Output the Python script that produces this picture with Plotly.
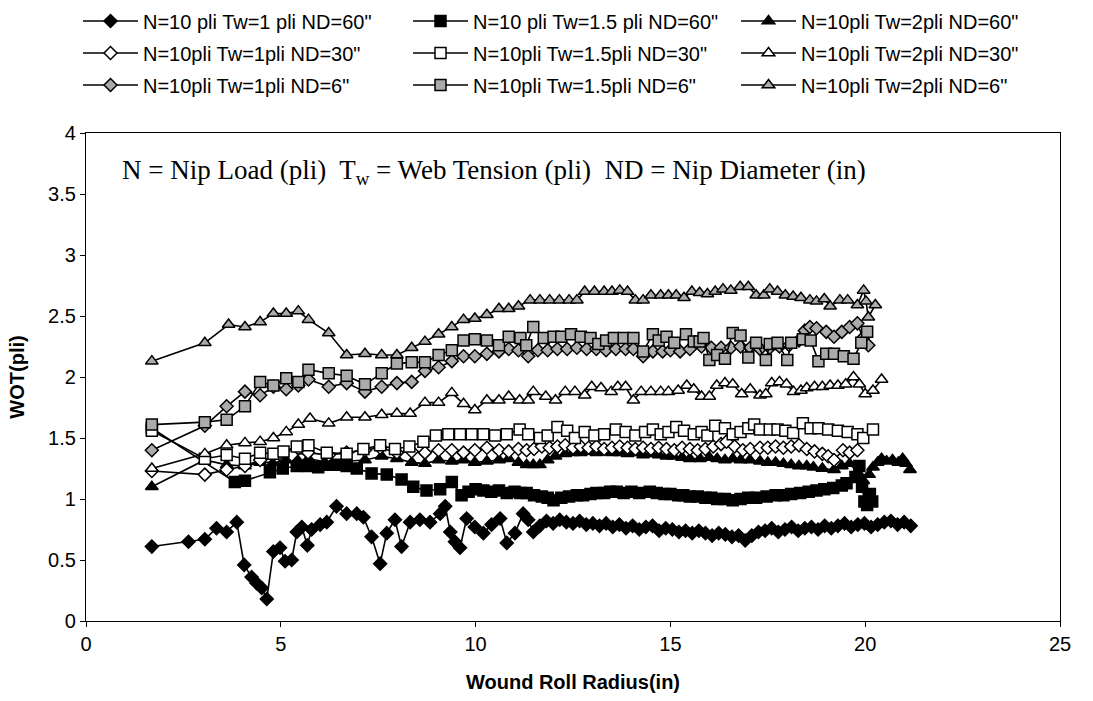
import plotly.graph_objects as go

# ---------------- data ----------------
x_tw1_nd60 = [1.69, 2.63, 3.05, 3.35, 3.61, 3.87, 4.06, 4.25, 4.38, 4.51, 4.64, 4.81, 4.98, 5.11, 5.28, 5.41, 5.54, 5.68,
              5.79, 6.01, 6.18, 6.43, 6.69, 6.95, 7.12, 7.33, 7.55, 7.72, 7.93, 8.10, 8.32, 8.57, 8.83, 9.09, 9.22, 9.35,
              9.47, 9.60, 9.77, 9.98, 10.20, 10.41, 10.63, 10.80, 11.01, 11.22, 11.35, 11.48, 11.65, 11.82, 11.99, 12.16,
              12.33, 12.50, 12.67, 12.84, 13.01, 13.18, 13.35, 13.52, 13.69, 13.86, 14.03, 14.20, 14.37, 14.54, 14.71,
              14.88, 15.05, 15.22, 15.39, 15.56, 15.73, 15.90, 16.07, 16.24, 16.41, 16.58, 16.75, 16.92, 17.09, 17.26,
              17.43, 17.60, 17.77, 17.94, 18.11, 18.28, 18.45, 18.62, 18.79, 18.96, 19.13, 19.30, 19.47, 19.64, 19.81,
              19.98, 20.15, 20.32, 20.49, 20.66, 20.83, 21.00, 21.17]
y_tw1_nd60 = [0.61, 0.65, 0.67, 0.76, 0.73, 0.81, 0.46, 0.36, 0.31, 0.27, 0.18, 0.57, 0.60, 0.49, 0.50, 0.73, 0.77, 0.62,
              0.75, 0.79, 0.81, 0.94, 0.88, 0.88, 0.85, 0.69, 0.47, 0.72, 0.83, 0.61, 0.81, 0.83, 0.81, 0.88, 0.94, 0.73,
              0.65, 0.60, 0.84, 0.77, 0.72, 0.79, 0.84, 0.64, 0.72, 0.88, 0.83, 0.73, 0.78, 0.82, 0.80, 0.83,
              0.81, 0.80, 0.82, 0.79, 0.80, 0.78, 0.80, 0.77, 0.79, 0.76, 0.78, 0.75, 0.77, 0.78, 0.74,
              0.76, 0.75, 0.73, 0.74, 0.72, 0.74, 0.72, 0.70, 0.72, 0.71, 0.69, 0.70, 0.66, 0.70, 0.73,
              0.74, 0.76, 0.73, 0.75, 0.77, 0.74, 0.76, 0.77, 0.75, 0.78, 0.76, 0.78, 0.80, 0.77, 0.79,
              0.80, 0.77, 0.79, 0.81, 0.82, 0.79, 0.81, 0.78]

x_tw15_nd60 = [1.69, 3.82, 4.08, 4.72, 5.05, 5.41, 5.70, 5.96, 6.20, 6.43, 6.69, 6.95, 7.33, 7.72, 8.10, 8.40, 8.74, 9.09,
               9.39, 9.64, 9.82, 10.00, 10.20, 10.40, 10.60, 10.80, 11.00, 11.15, 11.31, 11.50, 11.70, 11.85, 12.00, 12.20,
               12.40, 12.60, 12.76, 12.95, 13.10, 13.30, 13.45, 13.62, 13.80, 14.00, 14.20, 14.47, 14.65, 14.85, 15.00,
               15.20, 15.33, 15.50, 15.70, 15.90, 16.05, 16.20, 16.40, 16.60, 16.80, 17.00, 17.20, 17.47, 17.70, 17.90,
               18.10, 18.33, 18.55, 18.75, 18.95, 19.18, 19.40, 19.52, 19.75, 19.85, 19.92, 19.98, 20.05, 20.12, 20.18]
y_tw15_nd60 = [1.58, 1.14, 1.15, 1.22, 1.25, 1.27, 1.27, 1.26, 1.28, 1.28, 1.27, 1.25, 1.21, 1.20, 1.16, 1.10, 1.07, 1.08,
               1.14, 1.03, 1.06, 1.08, 1.07, 1.06, 1.07, 1.05, 1.06, 1.05, 1.05, 1.03, 1.02, 1.01, 0.99, 1.01,
               1.02, 1.03, 1.03, 1.04, 1.05, 1.05, 1.06, 1.06, 1.05, 1.06, 1.05, 1.06, 1.05, 1.04, 1.04,
               1.03, 1.03, 1.02, 1.02, 1.01, 1.01, 1.00, 1.00, 0.99, 1.00, 1.01, 1.01, 1.02, 1.03, 1.03,
               1.04, 1.05, 1.06, 1.07, 1.08, 1.09, 1.11, 1.13, 1.18, 1.27, 1.10, 0.98, 0.95, 1.04, 0.98]

x_tw2_nd60 = [1.69, 3.05, 3.61, 4.08, 4.47, 4.81, 5.14, 5.45, 5.71, 6.23, 6.69, 7.16, 7.59, 7.98, 8.36, 8.70, 9.05, 9.39,
              9.69, 9.98, 10.29, 10.60, 10.85, 11.10, 11.31, 11.48, 11.65, 11.85, 12.05, 12.30, 12.50, 12.70, 12.90,
              13.10, 13.30, 13.50, 13.70, 13.90, 14.10, 14.30, 14.50, 14.70, 14.90, 15.07, 15.30, 15.50, 15.76, 16.00,
              16.20, 16.40, 16.60, 16.80, 17.04, 17.30, 17.50, 17.70, 17.90, 18.10, 18.30, 18.50, 18.67, 18.90, 19.20,
              19.40, 19.60, 19.80, 19.95, 20.10, 20.20, 20.32, 20.42, 20.55, 20.70, 20.85, 20.96, 21.05, 21.15]
y_tw2_nd60 = [1.10, 1.32, 1.28, 1.27, 1.30, 1.30, 1.32, 1.31, 1.33, 1.30, 1.31, 1.32, 1.35, 1.33, 1.30, 1.29, 1.32, 1.31,
              1.32, 1.30, 1.31, 1.32, 1.33, 1.30, 1.28, 1.28, 1.28, 1.32, 1.35, 1.37, 1.38, 1.38, 1.39,
              1.38, 1.39, 1.38, 1.38, 1.37, 1.38, 1.36, 1.37, 1.36, 1.35, 1.35, 1.34, 1.33, 1.33, 1.34,
              1.33, 1.32, 1.33, 1.32, 1.32, 1.31, 1.30, 1.30, 1.29, 1.28, 1.27, 1.27, 1.26, 1.25, 1.24,
              1.27, 1.29, 1.22, 1.15, 1.20, 1.26, 1.30, 1.33, 1.31, 1.32, 1.30, 1.33, 1.29, 1.24]

x_tw1_nd30 = [1.69, 3.05, 3.61, 4.08, 4.47, 4.90, 5.28, 5.70, 6.23, 6.69, 7.16, 7.55, 7.98, 8.36, 8.70, 9.05, 9.39, 9.69,
              9.98, 10.29, 10.60, 10.85, 11.10, 11.31, 11.50, 11.70, 11.90, 12.10, 12.30, 12.50, 12.70, 12.90, 13.10,
              13.30, 13.50, 13.70, 13.90, 14.10, 14.30, 14.50, 14.70, 14.90, 15.10, 15.30, 15.50, 15.70, 15.90, 16.10,
              16.30, 16.44, 16.65, 16.86, 17.05, 17.30, 17.50, 17.70, 17.90, 18.10, 18.30, 18.50, 18.70, 18.90, 19.05,
              19.20, 19.43, 19.60, 19.80]
y_tw1_nd30 = [1.23, 1.20, 1.24, 1.27, 1.32, 1.35, 1.36, 1.38, 1.36, 1.38, 1.40, 1.42, 1.38, 1.39, 1.38, 1.40, 1.40, 1.38,
              1.40, 1.42, 1.40, 1.39, 1.41, 1.40, 1.41, 1.43, 1.42, 1.43, 1.44, 1.42, 1.43, 1.42, 1.43,
              1.41, 1.42, 1.43, 1.42, 1.41, 1.42, 1.41, 1.42, 1.41, 1.40, 1.42, 1.41, 1.40, 1.41, 1.43,
              1.45, 1.47, 1.43, 1.40, 1.41, 1.42, 1.42, 1.43, 1.42, 1.43, 1.44, 1.41, 1.39, 1.37, 1.35,
              1.32, 1.40, 1.38, 1.40]

x_tw15_nd30 = [1.69, 3.05, 3.61, 4.08, 4.47, 4.81, 5.07, 5.41, 5.71, 6.18, 6.69, 7.12, 7.55, 7.93, 8.30, 8.66, 8.98, 9.30,
               9.60, 9.90, 10.20, 10.50, 10.80, 11.13, 11.35, 11.65, 11.85, 12.10, 12.35, 12.55, 12.80, 13.05, 13.30,
               13.60, 13.85, 14.10, 14.35, 14.55, 14.75, 14.95, 15.15, 15.35, 15.60, 15.80, 15.95, 16.15, 16.40, 16.60,
               16.80, 17.00, 17.15, 17.30, 17.55, 17.75, 17.95, 18.15, 18.40, 18.60, 18.80, 19.05, 19.30, 19.55, 19.80,
               19.95, 20.20]
y_tw15_nd30 = [1.56, 1.33, 1.36, 1.33, 1.38, 1.37, 1.39, 1.43, 1.44, 1.38, 1.37, 1.41, 1.44, 1.41, 1.43, 1.47, 1.52, 1.53,
               1.53, 1.53, 1.53, 1.52, 1.53, 1.57, 1.53, 1.50, 1.52, 1.59, 1.56, 1.50, 1.55, 1.52, 1.53,
               1.57, 1.55, 1.52, 1.55, 1.57, 1.53, 1.55, 1.59, 1.56, 1.53, 1.55, 1.52, 1.60, 1.58, 1.53,
               1.55, 1.58, 1.61, 1.57, 1.57, 1.57, 1.56, 1.54, 1.62, 1.58, 1.58, 1.57, 1.56, 1.55, 1.53,
               1.50, 1.57]

x_tw2_nd30 = [1.69, 3.05, 3.61, 4.08, 4.47, 4.81, 5.14, 5.45, 5.75, 6.23, 6.69, 7.16, 7.59, 7.98, 8.32, 8.70, 9.05, 9.39,
              9.69, 9.98, 10.29, 10.60, 10.85, 11.13, 11.35, 11.48, 11.80, 12.05, 12.30, 12.55, 12.80, 12.98, 13.22,
              13.48, 13.65, 13.85, 14.05, 14.25, 14.50, 14.75, 14.95, 15.20, 15.42, 15.60, 15.80, 16.00, 16.19, 16.40,
              16.60, 16.83, 17.05, 17.30, 17.45, 17.60, 17.80, 17.98, 18.16, 18.35, 18.50, 18.70, 18.90, 19.10, 19.30,
              19.50, 19.70, 19.85, 20.00, 20.20, 20.42]
y_tw2_nd30 = [1.25, 1.37, 1.44, 1.46, 1.47, 1.50, 1.55, 1.61, 1.66, 1.62, 1.67, 1.67, 1.69, 1.70, 1.70, 1.79, 1.79, 1.87,
              1.78, 1.73, 1.81, 1.81, 1.84, 1.81, 1.81, 1.88, 1.84, 1.81, 1.88, 1.88, 1.85, 1.92, 1.91,
              1.88, 1.92, 1.92, 1.81, 1.88, 1.88, 1.88, 1.88, 1.89, 1.93, 1.90, 1.84, 1.84, 1.93, 1.95,
              1.94, 1.86, 1.90, 1.85, 1.86, 1.95, 1.96, 1.94, 1.88, 1.89, 1.91, 1.92, 1.92, 1.93, 1.93,
              1.94, 2.00, 1.94, 1.86, 1.89, 1.98]

x_tw1_nd6 = [1.69, 3.05, 3.61, 4.08, 4.47, 4.81, 5.14, 5.45, 5.71, 6.23, 6.69, 7.16, 7.59, 7.98, 8.36, 8.70, 9.05, 9.39,
             9.69, 9.98, 10.29, 10.60, 10.85, 11.10, 11.35, 11.60, 11.85, 12.10, 12.35, 12.60, 12.85, 13.10, 13.35,
             13.60, 13.85, 14.05, 14.30, 14.55, 14.80, 15.00, 15.25, 15.50, 15.80, 16.05, 16.30, 16.55, 16.80, 17.05,
             17.30, 17.55, 17.80, 18.05, 18.30, 18.45, 18.58, 18.75, 19.00, 19.20, 19.40, 19.60, 19.80, 19.94, 20.08]
y_tw1_nd6 = [1.40, 1.60, 1.76, 1.88, 1.85, 1.92, 1.90, 1.93, 1.98, 1.92, 1.95, 1.88, 1.92, 1.95, 1.96, 2.05, 2.08, 2.13,
             2.17, 2.17, 2.19, 2.21, 2.23, 2.22, 2.17, 2.22, 2.22, 2.23, 2.23, 2.24, 2.23, 2.23, 2.22,
             2.23, 2.23, 2.23, 2.17, 2.21, 2.21, 2.22, 2.21, 2.23, 2.25, 2.24, 2.24, 2.24, 2.25, 2.24,
             2.23, 2.24, 2.25, 2.26, 2.30, 2.38, 2.41, 2.40, 2.37, 2.33, 2.37, 2.41, 2.44, 2.32, 2.26]

x_tw15_nd6 = [1.69, 3.05, 3.61, 4.08, 4.47, 4.81, 5.14, 5.45, 5.71, 6.23, 6.69, 7.16, 7.59, 7.98, 8.36, 8.70, 9.05, 9.39,
              9.69, 9.98, 10.29, 10.60, 10.85, 11.15, 11.30, 11.48, 11.75, 12.00, 12.20, 12.45, 12.70, 12.95, 13.15,
              13.35, 13.55, 13.80, 14.05, 14.30, 14.55, 14.70, 14.90, 15.10, 15.40, 15.60, 15.75, 15.85, 16.00, 16.20,
              16.40, 16.60, 16.80, 17.00, 17.20, 17.45, 17.55, 17.75, 18.00, 18.10, 18.40, 18.60, 18.80, 19.00, 19.20,
              19.45, 19.70, 19.90, 20.05]
y_tw15_nd6 = [1.61, 1.63, 1.65, 1.76, 1.96, 1.93, 1.99, 1.96, 2.06, 2.03, 2.01, 1.94, 2.03, 2.11, 2.12, 2.12, 2.18, 2.22,
              2.30, 2.31, 2.30, 2.26, 2.33, 2.32, 2.26, 2.41, 2.32, 2.33, 2.33, 2.35, 2.33, 2.32, 2.27,
              2.30, 2.32, 2.32, 2.32, 2.21, 2.35, 2.30, 2.33, 2.28, 2.35, 2.29, 2.29, 2.32, 2.14, 2.18,
              2.15, 2.36, 2.34, 2.16, 2.28, 2.14, 2.27, 2.28, 2.14, 2.28, 2.31, 2.30, 2.13, 2.19, 2.19,
              2.17, 2.15, 2.28, 2.37]

x_tw2_nd6 = [1.69, 3.05, 3.66, 4.08, 4.47, 4.81, 5.14, 5.45, 5.71, 6.23, 6.69, 7.16, 7.59, 7.98, 8.36, 8.70, 9.05, 9.39,
             9.69, 9.98, 10.29, 10.60, 10.85, 11.10, 11.40, 11.65, 11.90, 12.15, 12.40, 12.60, 12.80, 13.05, 13.30,
             13.50, 13.70, 13.90, 14.10, 14.30, 14.50, 14.75, 14.95, 15.15, 15.35, 15.55, 15.75, 15.95, 16.15, 16.35,
             16.55, 16.79, 17.00, 17.20, 17.40, 17.55, 17.75, 17.95, 18.15, 18.35, 18.58, 18.75, 18.95, 19.10, 19.35,
             19.55, 19.80, 19.96, 20.02, 20.08, 20.26]
y_tw2_nd6 = [2.13, 2.28, 2.43, 2.41, 2.45, 2.52, 2.52, 2.54, 2.47, 2.36, 2.18, 2.19, 2.18, 2.18, 2.24, 2.29, 2.35, 2.41,
             2.47, 2.48, 2.51, 2.56, 2.56, 2.58, 2.63, 2.63, 2.63, 2.63, 2.63, 2.63, 2.70, 2.70, 2.70,
             2.70, 2.71, 2.70, 2.63, 2.63, 2.67, 2.67, 2.67, 2.67, 2.65, 2.70, 2.69, 2.68, 2.70, 2.72,
             2.71, 2.74, 2.74, 2.67, 2.67, 2.72, 2.70, 2.67, 2.66, 2.65, 2.63, 2.62, 2.64, 2.58, 2.63,
             2.63, 2.59, 2.71, 2.62, 2.49, 2.59]

series_names = ['N=10 pli Tw=1 pli ND=60"', 'N=10 pli Tw=1.5 pli ND=60"', 'N=10pli Tw=2pli ND=60"',
                'N=10pli Tw=1pli ND=30"', 'N=10pli Tw=1.5pli ND=30"', 'N=10pli Tw=2pli ND=30"',
                'N=10pli Tw=1pli ND=6"', 'N=10pli Tw=1.5pli ND=6"', 'N=10pli Tw=2pli ND=6"']
series_x = [x_tw1_nd60, x_tw15_nd60, x_tw2_nd60, x_tw1_nd30, x_tw15_nd30, x_tw2_nd30, x_tw1_nd6, x_tw15_nd6, x_tw2_nd6]
series_y = [y_tw1_nd60, y_tw15_nd60, y_tw2_nd60, y_tw1_nd30, y_tw15_nd30, y_tw2_nd30, y_tw1_nd6, y_tw15_nd6, y_tw2_nd6]

# ---------------- styles ----------------
symbols = ['diamond', 'square', 'triangle-up'] * 3
sizes = [10, 11, 11] * 3
fills = ['black'] * 3 + ['white'] * 3 + ['#ababab'] * 3

W, H = 1093, 701
font_family = 'Liberation Sans, Arial, sans-serif'
col_x = [78, 408, 736]
row_y = [21, 53, 85]

fig = go.Figure()
legend_layouts = {}
for i in range(9):
    key = 'legend' if i == 0 else f'legend{i + 1}'
    fig.add_trace(go.Scatter(
        x=series_x[i], y=series_y[i], name=series_names[i], mode='lines+markers',
        line=dict(color='black', width=1.6),
        marker=dict(symbol=symbols[i], size=sizes[i], color=fills[i],
                    line=dict(color='black', width=1.5)),
        legend=key, showlegend=True,
    ))
    legend_layouts[key] = dict(
        orientation='h', xref='container', yref='container', xanchor='left', yanchor='middle',
        x=col_x[i % 3] / W, y=1 - row_y[i // 3] / H, itemwidth=55, visible=True,
        font=dict(family=font_family, size=20, color='black'),
        bgcolor='rgba(0,0,0,0)', borderwidth=0)

fig.update_layout(
    width=W, height=H, showlegend=True,
    margin=dict(l=86, r=33, t=133, b=80),
    paper_bgcolor='white', plot_bgcolor='white',
    font=dict(family=font_family, size=20, color='black'),
    xaxis=dict(range=[0, 25], dtick=5, tick0=0, showgrid=False, zeroline=False,
               showline=True, linecolor='black', linewidth=1.2, mirror=True,
               ticks='outside', ticklen=5, tickcolor='black',
               tickfont=dict(size=20),
               title=dict(text='<b>Wound Roll Radius(in)</b>', font=dict(size=20), standoff=20)),
    yaxis=dict(range=[0, 4], dtick=0.5, tick0=0, showgrid=False, zeroline=False,
               showline=True, linecolor='black', linewidth=1.2, mirror=True,
               ticks='outside', ticklen=5, tickcolor='black',
               tickfont=dict(size=20),
               title=dict(text='<b>WOT(pli)</b>', font=dict(size=20), standoff=18)),
    annotations=[dict(
        text='N = Nip Load (pli)  T<sub>w</sub> = Web Tension (pli)  ND = Nip Diameter (in)',
        xref='paper', yref='y', x=(120 - 86) / 974, y=3.68, xanchor='left', yanchor='middle',
        showarrow=False, font=dict(family='Liberation Serif, Times New Roman, serif', size=27, color='black'))],
    **legend_layouts,
)

fig.write_html('out.html')
